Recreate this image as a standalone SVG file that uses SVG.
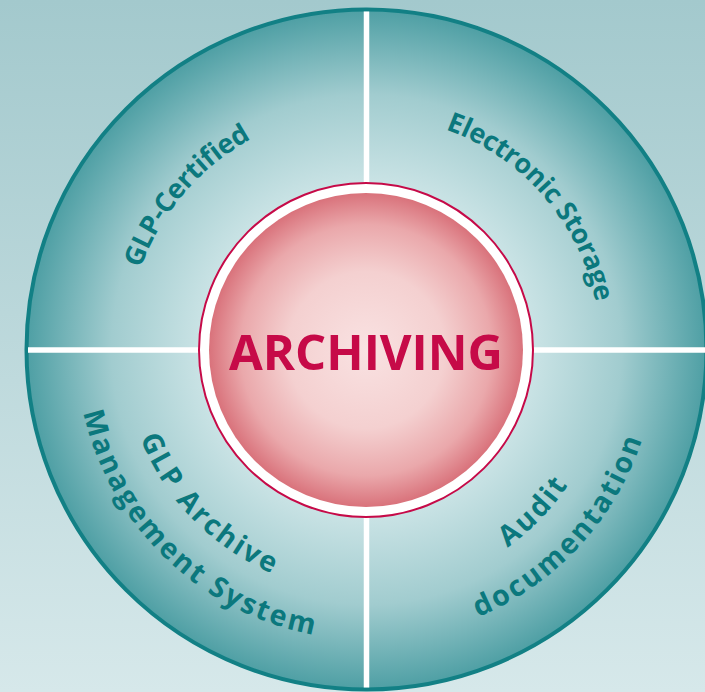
<svg xmlns="http://www.w3.org/2000/svg" width="705" height="692" viewBox="0 0 705 692">
  <defs>
    <linearGradient id="bg" x1="0" y1="0" x2="0" y2="1">
      <stop offset="0" stop-color="#a3c9cd"/>
      <stop offset="1" stop-color="#d6e8ea"/>
    </linearGradient>
    <radialGradient id="ringFill" cx="366.5" cy="349.5" r="340" gradientUnits="userSpaceOnUse">
      <stop offset="0" stop-color="#e2f0f1"/>
      <stop offset="0.5" stop-color="#c8e2e4"/>
      <stop offset="0.75" stop-color="#a1cccf"/>
      <stop offset="1" stop-color="#4e9fa4"/>
    </radialGradient>
    <radialGradient id="coreFill" cx="366" cy="350" r="157" gradientUnits="userSpaceOnUse">
      <stop offset="0" stop-color="#f9e2e2"/>
      <stop offset="0.5" stop-color="#f4d0d0"/>
      <stop offset="0.8" stop-color="#eaa8ab"/>
      <stop offset="1" stop-color="#d9727b"/>
    </radialGradient>
    <path id="pGLP" d="M127.2,368.3 A240,240 0 0 1 347.7,110.2"/>
    <path id="pElec" d="M382.8,116.1 A234,234 0 0 1 599.9,365.8"/>
    <path id="pArch" d="M123.5,347.4 A243,243 0 0 0 364.4,592.5"/>
    <path id="pMgmt" d="M76.6,355.6 A290,290 0 0 0 372.6,639.4"/>
    <path id="pAudit" d="M370.7,592.5 A243,243 0 0 0 609.5,345.3"/>
    <path id="pDoc" d="M379.1,639.2 A290,290 0 0 0 656.2,336.9"/>
  </defs>
  <style>
    .lbl { font-family: "Open Sans", "Noto Sans", "Liberation Sans", sans-serif; font-weight: 700; fill: #0b787d; }
    .top { font-size: 27px; letter-spacing: -0.3px; }
    .bot { font-size: 28.5px; letter-spacing: 2.4px; }
    .div { stroke: #ffffff; stroke-width: 5.5; fill: none; }
    .core { font-family: "Open Sans", "Noto Sans", "Liberation Sans", sans-serif; font-weight: 700; font-size: 48px; fill: #c60a48; }
  </style>

  <rect id="background" x="0" y="0" width="705" height="692" fill="url(#bg)"/>

  <g id="ring">
    <circle cx="366.5" cy="349.5" r="340" fill="url(#ringFill)" stroke="#128085" stroke-width="4"/>
  </g>

  <g id="connectors">
    <line class="div" x1="366.5" y1="11.5" x2="366.5" y2="687.5"/>
    <line class="div" x1="28" y1="350" x2="705" y2="350"/>
  </g>

  <g id="node-glp-certified">
    <text class="lbl top"><textPath href="#pGLP" startOffset="50%" text-anchor="middle">GLP-Certified</textPath></text>
  </g>
  <g id="node-electronic-storage">
    <text class="lbl top"><textPath href="#pElec" startOffset="50%" text-anchor="middle">Electronic Storage</textPath></text>
  </g>
  <g id="node-glp-archive">
    <text class="lbl bot"><textPath href="#pArch" startOffset="50%" text-anchor="middle">GLP Archive</textPath></text>
    <text class="lbl bot"><textPath href="#pMgmt" startOffset="50%" text-anchor="middle">Management System</textPath></text>
  </g>
  <g id="node-audit">
    <text class="lbl bot"><textPath href="#pAudit" startOffset="50%" text-anchor="middle">Audit</textPath></text>
    <text class="lbl bot"><textPath href="#pDoc" startOffset="50%" text-anchor="middle">documentation</textPath></text>
  </g>

  <g id="node-archiving">
    <circle cx="366" cy="350" r="167" fill="#ffffff" stroke="#c60a48" stroke-width="2"/>
    <circle cx="366" cy="350" r="157" fill="url(#coreFill)"/>
    <text class="core" x="366" y="370" text-anchor="middle" textLength="274" lengthAdjust="spacingAndGlyphs">ARCHIVING</text>
  </g>
</svg>
